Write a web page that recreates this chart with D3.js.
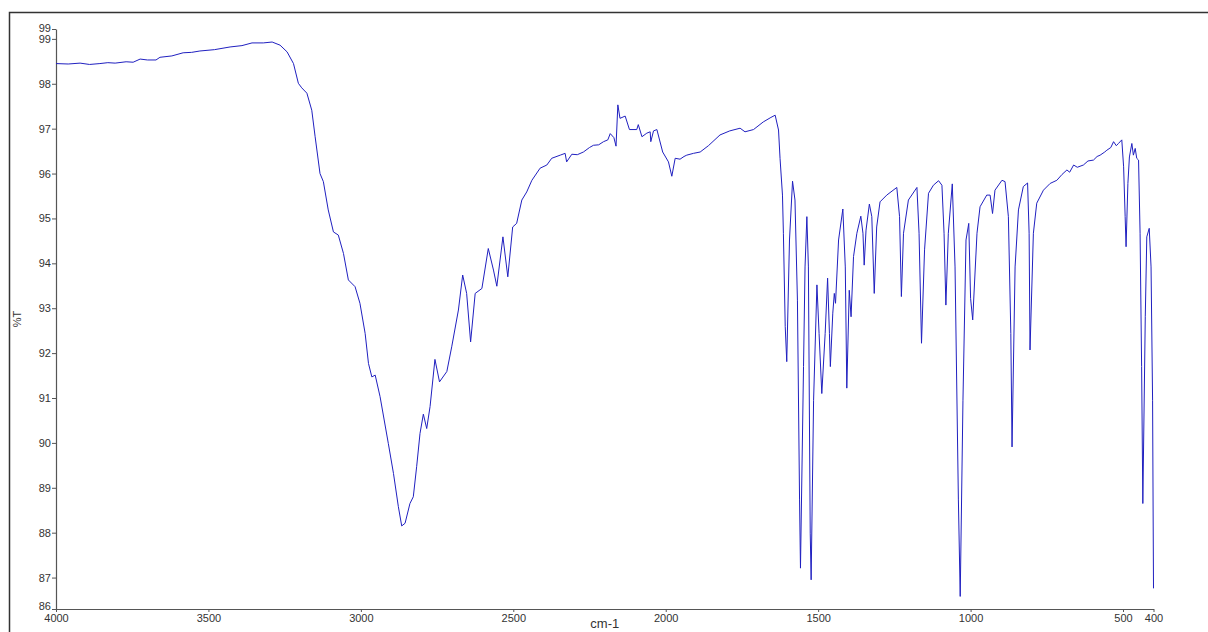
<!DOCTYPE html>
<html>
<head>
<meta charset="utf-8">
<script src="https://cdn.jsdelivr.net/npm/d3@7"></script>
<style>
  html, body { margin: 0; padding: 0; background: #fff; }
  svg { display: block; }
  text { font-family: "Liberation Sans", Arial, sans-serif; fill: #333; }
</style>
</head>
<body>
<svg id="chart" width="1208" height="632"></svg>
<script>
// Wavenumbers (cm-1), descending
const wavenumbers = [
4000,3960,3921,3890,3856,3830,3806,3770,3747,3724,3700,3672,3659,3620,3583,3555,3528,3480,3429,3390,
3357,3320,3291,3265,3242,3221,3205,3194,3177,3161,3150,3134,3123,3107,3090,3074,3057,3041,3019,3003,
2986,2975,2964,2953,2937,2910,2893,2877,2866,2855,2839,2828,2817,2806,2795,2784,2773,2757,2742,2718,
2702,2680,2666,2653,2640,2625,2603,2582,2565,2554,2534,2518,2502,2489,2472,2456,2439,2412,2390,2374,
2346,2330,2325,2308,2290,2270,2250,2237,2220,2204,2190,2182,2170,2163,2157,2150,2133,2119,2095,2090,
2078,2062,2051,2049,2040,2029,2010,1991,1980,1969,1953,1940,1931,1909,1887,1860,1822,1790,1756,1740,
1712,1680,1655,1641,1630,1625,1617,1614,1608,1603,1594,1584,1576,1568,1561,1558,1548,1543,1537,1532,
1526,1523,1515,1504,1497,1488,1477,1469,1463,1460,1452,1447,1443,1433,1419,1411,1406,1398,1392,1384,
1373,1360,1353,1349,1343,1332,1324,1316,1308,1297,1275,1242,1233,1227,1220,1204,1176,1169,1161,1151,
1138,1122,1105,1094,1087,1081,1073,1060,1051,1040,1034,1025,1015,1006,1000,993,979,969,947,936,
928,920,897,887,876,868,864,854,843,827,813,808,805,794,783,761,739,717,700,684,
675,662,650,630,615,597,585,575,560,553,540,531,522,515,504,498,493,490,484,479,
471,466,460,455,449,444,439,435,427,422,414,408,403,400
];
// Transmittance (%T)
const transmittance = [
98.45,98.44,98.46,98.43,98.45,98.47,98.46,98.49,98.48,98.55,98.53,98.53,98.59,98.62,98.69,98.70,98.73,98.76,98.82,98.85,
98.91,98.91,98.93,98.86,98.71,98.45,98.01,97.91,97.79,97.41,96.82,96.00,95.82,95.19,94.70,94.63,94.22,93.63,93.48,93.11,
92.44,91.77,91.47,91.51,91.03,89.99,89.32,88.58,88.15,88.21,88.65,88.80,89.47,90.21,90.64,90.32,90.81,91.86,91.36,91.59,
92.14,92.96,93.74,93.33,92.25,93.33,93.44,94.33,93.85,93.49,94.59,93.70,94.81,94.89,95.41,95.59,95.85,96.12,96.19,96.34,
96.41,96.45,96.26,96.43,96.42,96.48,96.58,96.63,96.64,96.71,96.75,96.89,96.80,96.61,97.53,97.23,97.28,96.98,96.98,97.09,
96.82,96.90,96.93,96.71,96.95,96.98,96.48,96.26,95.94,96.34,96.32,96.38,96.41,96.45,96.48,96.62,96.86,96.95,97.01,96.93,
96.98,97.15,97.25,97.30,96.97,96.34,95.52,94.67,92.59,91.81,94.52,95.83,95.41,93.18,88.73,87.21,91.70,93.92,95.04,93.92,
87.99,86.95,90.95,93.52,92.44,91.10,92.44,93.67,92.44,91.70,92.89,93.33,93.11,94.52,95.21,93.92,91.22,93.40,92.81,94.15,
94.67,95.05,94.67,93.96,94.74,95.32,95.04,93.33,94.81,95.37,95.52,95.69,95.04,93.26,94.67,95.41,95.69,94.67,92.22,94.30,
95.56,95.74,95.84,95.74,94.67,93.07,94.67,95.77,93.92,88.73,86.58,90.95,94.52,94.89,93.22,92.74,94.67,95.26,95.52,95.52,
95.11,95.63,95.85,95.82,95.04,92.44,89.91,93.92,95.19,95.71,95.79,94.67,92.07,94.67,95.34,95.63,95.78,95.85,95.98,96.08,
96.03,96.19,96.14,96.19,96.28,96.30,96.38,96.41,96.48,96.52,96.58,96.71,96.62,96.67,96.75,96.15,95.04,94.37,95.78,96.37,
96.67,96.41,96.56,96.34,96.30,94.67,91.70,88.65,92.81,94.59,94.78,93.92,90.95,86.76
];

const xTicks = [4000, 3500, 3000, 2500, 2000, 1500, 1000, 500, 400];
const yTicks = [99.22, 99, 98, 97, 96, 95, 94, 93, 92, 91, 90, 89, 88, 87, 86.3];
const xDomain = [4000, 400];
const yDomain = [86.3, 99.22];
const xTitle = "cm-1";
const yTitle = "%T";

(function () {
const svg = d3.select("#chart");

// outer frame (extends past right/bottom edge)
svg.append("rect")
  .attr("x", 9.5).attr("y", 12.5)
  .attr("width", 1400).attr("height", 800)
  .attr("fill", "none").attr("stroke", "#333").attr("stroke-width", 1.5);

const mLeft = 56, mRight = 1153.5, mTop = 29, mBottom = 609;
const x = d3.scaleLinear().domain(xDomain).range([mLeft, mRight]);
const y = d3.scaleLinear().domain(yDomain).range([mBottom, mTop]);

const yAxis = svg.append("g")
  .attr("transform", `translate(${mLeft},0)`)
  .call(d3.axisLeft(y).tickValues(yTicks).tickFormat(d => String(Math.round(d))).tickSize(4).tickSizeOuter(0).tickPadding(1));
const xAxis = svg.append("g")
  .attr("transform", `translate(0,${mBottom})`)
  .call(d3.axisBottom(x).tickValues(xTicks).tickFormat(d3.format("d")).tickSize(3).tickSizeOuter(0).tickPadding(2));

[xAxis, yAxis].forEach(g => {
  g.selectAll("path.domain").attr("stroke", "#555").attr("stroke-width", 1.2);
  g.selectAll(".tick line").attr("stroke", "#555");
  g.selectAll(".tick text").attr("fill", "#333").style("font-size", "11px")
    .style("font-family", "'Liberation Sans', Arial, sans-serif");
});
// nudge the end labels inward as in the original
yAxis.selectAll(".tick text").filter(d => d === yDomain[0]).attr("dy", "0.05em");
yAxis.selectAll(".tick text").filter(d => d === yDomain[1]).attr("dy", "0.2em");

svg.append("text")
  .attr("x", (mLeft + mRight) / 2).attr("y", 628)
  .attr("text-anchor", "middle")
  .style("font-size", "13px")
  .text(xTitle);

svg.append("text")
  .attr("transform", `translate(21,${(mTop + mBottom) / 2}) rotate(-90)`)
  .attr("text-anchor", "middle")
  .style("font-size", "11px")
  .text(yTitle);

const pts = wavenumbers.map((w, i) => [w, transmittance[i]]);
const line = d3.line().x(d => x(d[0])).y(d => y(d[1]));
svg.append("path")
  .datum(pts)
  .attr("d", line)
  .attr("fill", "none")
  .attr("stroke", "#2020c0")
  .attr("stroke-width", 1)
  .attr("stroke-linejoin", "round");
})();
</script>
</body>
</html>
